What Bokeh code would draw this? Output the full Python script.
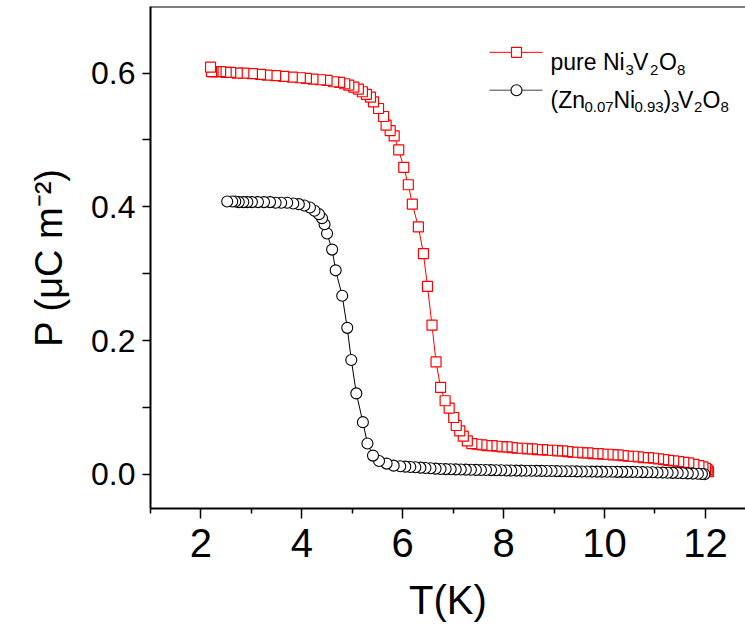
from bokeh.plotting import figure
from bokeh.models import Range1d, FixedTicker, Span, Label, PrintfTickFormatter
from bokeh.embed import file_html
from bokeh.resources import INLINE

# ---------------- data ----------------
T_pure = [2.19, 2.21, 2.24, 2.30, 2.39, 2.50, 2.59, 2.72, 2.85, 3.02,
          3.18, 3.31, 3.48, 3.64, 3.81, 3.97, 4.09, 4.22, 4.37, 4.50,
          4.63, 4.75, 4.85, 4.93, 5.03, 5.12, 5.20, 5.28, 5.36, 5.42,
          5.52, 5.62, 5.67, 5.75, 5.83, 5.92, 6.02, 6.11, 6.19, 6.31,
          6.41, 6.49, 6.58, 6.66, 6.75, 6.84, 6.92, 7.01, 7.06, 7.13,
          7.20, 7.28, 7.37,
          7.47, 7.57, 7.67, 7.77, 7.87, 7.97, 8.07, 8.17, 8.27, 8.37,
          8.47, 8.57, 8.67, 8.77, 8.87, 8.97, 9.07, 9.17, 9.27, 9.37,
          9.47, 9.57, 9.67, 9.77, 9.87, 9.97, 10.07, 10.17, 10.27, 10.37,
          10.47, 10.57, 10.67, 10.77, 10.87, 10.97, 11.07, 11.17, 11.27, 11.37,
          11.47, 11.57, 11.67, 11.77, 11.87, 11.95, 12.00, 12.03, 12.05, 12.06]
P_pure = [0.609, 0.602, 0.602, 0.602, 0.602, 0.601, 0.601, 0.600, 0.600, 0.599,
          0.598, 0.597, 0.596, 0.595, 0.594, 0.593, 0.592, 0.591, 0.590, 0.589,
          0.587, 0.586, 0.584, 0.582, 0.579, 0.576, 0.572, 0.568, 0.564, 0.557,
          0.547, 0.535, 0.522, 0.514, 0.506, 0.485, 0.459, 0.433, 0.404, 0.370,
          0.330, 0.281, 0.223, 0.168, 0.130, 0.110, 0.099, 0.085, 0.073, 0.065,
          0.057, 0.050, 0.046,
          0.045, 0.044, 0.043, 0.043, 0.042, 0.041, 0.041, 0.040, 0.039, 0.039,
          0.038, 0.038, 0.037, 0.037, 0.036, 0.036, 0.035, 0.035, 0.034, 0.033,
          0.033, 0.032, 0.032, 0.031, 0.031, 0.030, 0.030, 0.029, 0.029, 0.028,
          0.027, 0.027, 0.026, 0.025, 0.025, 0.024, 0.023, 0.022, 0.021, 0.020,
          0.019, 0.018, 0.017, 0.015, 0.013, 0.011, 0.009, 0.007, 0.005, 0.004]

T_zn = [2.52, 2.62, 2.68, 2.75, 2.84, 2.92, 3.01, 3.13, 3.25, 3.37,
        3.48, 3.59, 3.71, 3.83, 3.94, 4.05, 4.16, 4.25, 4.34, 4.40,
        4.45, 4.50, 4.60, 4.67, 4.80, 4.90, 4.98, 5.08, 5.21, 5.30,
        5.41, 5.53, 5.68, 5.82, 5.95,
        6.05, 6.15, 6.25, 6.35, 6.45, 6.55, 6.65, 6.75, 6.85, 6.95,
        7.05, 7.15, 7.25, 7.35, 7.45, 7.55, 7.65, 7.75, 7.85, 7.95,
        8.05, 8.15, 8.25, 8.35, 8.45, 8.55, 8.65, 8.75, 8.85, 8.95,
        9.05, 9.15, 9.25, 9.35, 9.45, 9.55, 9.65, 9.75, 9.85, 9.95,
        10.05, 10.15, 10.25, 10.35, 10.45, 10.55, 10.65, 10.75, 10.85, 10.95,
        11.05, 11.15, 11.25, 11.35, 11.45, 11.55, 11.65, 11.75, 11.85, 11.93,
        11.98]
P_zn = [0.408, 0.408, 0.408, 0.407, 0.407, 0.407, 0.407, 0.407, 0.407, 0.407,
        0.406, 0.406, 0.406, 0.405, 0.404, 0.402, 0.399, 0.394, 0.389, 0.383,
        0.374, 0.360, 0.336, 0.305, 0.267, 0.219, 0.171, 0.121, 0.078, 0.046,
        0.028, 0.020, 0.016, 0.013, 0.012,
        0.0115, 0.0110, 0.0105, 0.0100, 0.0095, 0.0090, 0.0085, 0.0080, 0.0078, 0.0076,
        0.0074, 0.0072, 0.0070, 0.0068, 0.0066, 0.0065, 0.0064, 0.0063, 0.0062, 0.0060,
        0.0058, 0.0057, 0.0056, 0.0055, 0.0054, 0.0053, 0.0052, 0.0051, 0.0050, 0.0049,
        0.0048, 0.0047, 0.0046, 0.0045, 0.0044, 0.0043, 0.0042, 0.0041, 0.0040, 0.0040,
        0.0039, 0.0038, 0.0037, 0.0037, 0.0036, 0.0036, 0.0035, 0.0033, 0.0031, 0.0030,
        0.0028, 0.0026, 0.0024, 0.0022, 0.0020, 0.0017, 0.0014, 0.0011, 0.0008, 0.0004,
        0.0]

x_major = [2, 4, 6, 8, 10, 12]
x_minor = [1, 3, 5, 7, 9, 11, 13]
y_major = [0.0, 0.2, 0.4, 0.6]
y_minor = [-0.1, 0.1, 0.3, 0.5, 0.7]

n1 = min(len(T_pure), len(P_pure))
n2 = min(len(T_zn), len(P_zn))
T_pure, P_pure = T_pure[:n1], P_pure[:n1]
T_zn, P_zn = T_zn[:n2], P_zn[:n2]

FONT = "Liberation Sans"
RED = "#ff0000"

p = figure(width=745, height=624, output_backend="svg", toolbar_location=None,
           x_range=Range1d(1.0, 12.794), y_range=Range1d(-0.0511, 0.6995),
           min_border_left=150, min_border_right=0, min_border_top=6,
           min_border_bottom=114)
p.outline_line_color = None
p.grid.visible = False
p.background_fill_color = "white"
p.border_fill_color = "white"

# top frame line
p.add_layout(Span(location=0.6995, dimension="width", line_color="black", line_width=2))

# axes
xa = p.xaxis[0]
xa.ticker = FixedTicker(ticks=x_major, minor_ticks=x_minor)
xa.axis_line_width = 2
xa.axis_line_color = "black"
xa.major_tick_line_color = "black"
xa.minor_tick_line_color = "black"
xa.major_tick_line_width = 1.5
xa.minor_tick_line_width = 1.5
xa.major_tick_out = 10
xa.major_tick_in = 0
xa.minor_tick_out = 5
xa.minor_tick_in = 0
xa.major_label_text_font = FONT
xa.major_label_text_font_size = "40px"
xa.major_label_text_color = "black"
xa.major_label_standoff = 10
xa.axis_label = "T(K)"
xa.axis_label_text_font = FONT
xa.axis_label_text_font_size = "40px"
xa.axis_label_text_font_style = "normal"
xa.axis_label_text_color = "black"
xa.axis_label_standoff = 18

ya = p.yaxis[0]
ya.ticker = FixedTicker(ticks=y_major, minor_ticks=y_minor)
ya.formatter = PrintfTickFormatter(format="%.1f")
ya.axis_line_width = 2
ya.axis_line_color = "black"
ya.major_tick_line_color = "black"
ya.minor_tick_line_color = "black"
ya.major_tick_line_width = 1.5
ya.minor_tick_line_width = 1.5
ya.major_tick_out = 8
ya.major_tick_in = 0
ya.minor_tick_out = 8
ya.minor_tick_in = 0
ya.major_label_text_font = FONT
ya.major_label_text_font_size = "32px"
ya.major_label_text_color = "black"
ya.major_label_standoff = 7
ya.axis_label = "P (\u03bcC m\u207b\u00b2)"
ya.axis_label_text_font = FONT
ya.axis_label_text_font_size = "38px"
ya.axis_label_text_font_style = "normal"
ya.axis_label_text_color = "black"
ya.axis_label_standoff = 18

# data (drawn from high T to low T so that low-T markers sit on top)
p.line(T_pure, P_pure, line_color=RED, line_width=1)
p.scatter(T_pure[::-1], P_pure[::-1], marker="square", size=10,
          line_color=RED, line_width=1.2, fill_color="white")
p.line(T_zn, P_zn, line_color="black", line_width=1)
p.scatter(T_zn[::-1], P_zn[::-1], marker="circle", size=11,
          line_color="black", line_width=1.1, fill_color="white")

# ---------------- legend (positions given in reference pixels) -------------
def dx(px):
    return 1.0 + (px - 150.0) / 50.45

def dy(py):
    return (475.7 - py) / 671.5

row1_y, row2_y = 52, 90
p.line([dx(489), dx(542)], [dy(row1_y), dy(row1_y)], line_color=RED, line_width=1)
p.scatter([dx(516)], [dy(row1_y)], marker="square", size=10, line_color=RED,
          line_width=1.2, fill_color="white")
p.line([dx(489), dx(542)], [dy(row2_y), dy(row2_y)], line_color="#444444", line_width=1)
p.scatter([dx(516)], [dy(row2_y)], marker="circle", size=11, line_color="black",
          line_width=1.1, fill_color="white")

MAIN, SUB = "23px", "15px"
pieces = [
    # (text, px, baseline_py, size)
    ("pure Ni", 550, 62, MAIN), ("3", 625, 70, SUB), ("V", 632.5, 62, MAIN),
    ("2", 649.5, 70, SUB), ("O", 658.5, 62, MAIN), ("8", 676.5, 70, SUB),
    ("(Zn", 550, 100, MAIN), ("0.07", 584, 107, SUB), ("Ni", 613, 100, MAIN),
    ("0.93", 634, 107, SUB), (")", 663, 100, MAIN), ("3", 670.5, 107, SUB),
    ("V", 677.5, 100, MAIN), ("2", 693.5, 107, SUB), ("O", 702, 100, MAIN),
    ("8", 720, 107, SUB),
]
for txt, px, py, fs in pieces:
    p.add_layout(Label(x=dx(px), y=dy(py), text=txt, text_font=FONT,
                       text_font_size=fs, text_baseline="alphabetic",
                       text_align="left", text_color="black"))

open("out.html", "w").write(file_html(p, INLINE))
